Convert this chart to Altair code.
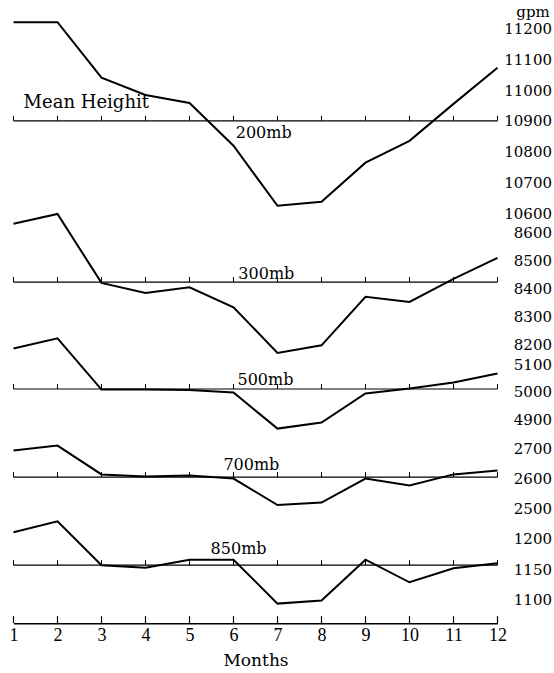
import altair as alt
import pandas as pd

# ---------------- data ----------------
months = list(range(1, 13))
levels = ["200mb", "300mb", "500mb", "700mb", "850mb"]
h200 = [11220, 11220, 11040, 10984, 10958, 10819, 10624, 10637, 10764, 10835, 10955, 11072]
h300 = [8630, 8665, 8419, 8383, 8403, 8332, 8169, 8196, 8369, 8351, 8433, 8508]
h500 = [5157, 5194, 5008, 5008, 5006, 4997, 4866, 4888, 4994, 5012, 5034, 5066]
h700 = [2692, 2708, 2612, 2605, 2608, 2598, 2510, 2518, 2598, 2575, 2612, 2625]
h850 = [1211, 1229, 1157, 1153, 1166, 1166, 1094, 1099, 1166, 1129, 1152, 1160]
series = [h200, h300, h500, h700, h850]
mean_heights = [10900, 8422, 5010, 2603, 1157]
tick_values = [
    [11200, 11100, 11000, 10900, 10800, 10700, 10600],
    [8600, 8500, 8400, 8300, 8200],
    [5100, 5000, 4900],
    [2700, 2600, 2500],
    [1200, 1150, 1100],
]
# label anchor (month, gpm) for the level names
label_month = [6.05, 6.11, 6.09, 5.77, 5.48]
label_gpm = [10861, 8451, 5044, 2642, 1183]
mean_text = "Mean Heighit"
mean_text_month = 1.23
mean_text_gpm = 10958

# ---------------- layout ----------------
domains = [(10575, 11250), (8160, 8640), (4850, 5130), (2470, 2750), (1062, 1236)]
px_per_gpm = [0.308, 0.28, 0.275, 0.30, 0.61]
TICK_PX = 5
PLOT_W = 484
SERIF = "DejaVu Serif"

xscale = alt.Scale(domain=[1, 12], nice=False, zero=False)


def panel(i):
    lo, hi = domains[i]
    h = (hi - lo) * px_per_gpm[i]
    yscale = alt.Scale(domain=[lo, hi], nice=False, zero=False)
    last = i == len(levels) - 1
    tick_len = TICK_PX / px_per_gpm[i]

    yaxis_kwargs = dict(
        orient="right", values=tick_values[i], format="d", ticks=False, tickSize=0,
        domain=False, grid=False, labelAlign="right", labelBaseline="middle",
        labelPadding=54, labelFont=SERIF, labelFontSize=15, labelColor="black",
        labelOverlap=False, labelFlush=False,
    )
    if i == 0:
        yaxis_kwargs.update(
            title="gpm", titleAngle=0, titleX=35, titleY=-1.5, titleAlign="center",
            titleBaseline="middle", titleFont=SERIF, titleFontSize=15,
            titleFontWeight="normal", titleColor="black",
        )
    else:
        yaxis_kwargs.update(title="")
    yaxis = alt.Axis(**yaxis_kwargs)

    if last:
        xaxis = alt.Axis(
            values=months, format="d", ticks=False, tickSize=0, domain=True,
            domainColor="black", domainWidth=1.5, grid=False,
            labelFont="Liberation Serif", labelFontSize=18, labelColor="black",
            labelPadding=3, labelFlush=False, labelOverlap=False,
            title="Months", titleFont=SERIF, titleFontSize=17,
            titleFontWeight="normal", titleColor="black", titlePadding=8,
        )
    else:
        xaxis = None

    def X(field):
        return alt.X(field, scale=xscale, axis=xaxis)

    def Y(field):
        return alt.Y(field, scale=yscale, axis=yaxis)

    df = pd.DataFrame({"month": months, "height": series[i]})
    line = alt.Chart(df).mark_line(color="black", strokeWidth=2).encode(
        x=X("month:Q"), y=Y("height:Q")
    )

    mdf = pd.DataFrame({"start": [months[0]], "end": [months[-1]], "mean": [mean_heights[i]]})
    rule = alt.Chart(mdf).mark_rule(color="black", strokeWidth=1.2).encode(
        x=X("start:Q"), x2="end:Q", y=Y("mean:Q")
    )

    tdf = pd.DataFrame({
        "month": months,
        "mean": [mean_heights[i]] * len(months),
        "top": [mean_heights[i] + tick_len] * len(months),
    })
    ticks = alt.Chart(tdf).mark_rule(color="black", strokeWidth=1).encode(
        x=X("month:Q"), y=Y("mean:Q"), y2="top:Q"
    )

    ldf = pd.DataFrame({"month": [label_month[i]], "gpm": [label_gpm[i]], "txt": [levels[i]]})
    label = alt.Chart(ldf).mark_text(
        font=SERIF, fontSize=16, align="left", baseline="middle", color="black"
    ).encode(x=X("month:Q"), y=Y("gpm:Q"), text="txt:N")

    layers = [rule, ticks, line, label]

    if i == 0:
        mtdf = pd.DataFrame({"month": [mean_text_month], "gpm": [mean_text_gpm], "txt": [mean_text]})
        layers.append(
            alt.Chart(mtdf).mark_text(
                font=SERIF, fontSize=18, align="left", baseline="middle", color="black"
            ).encode(x=X("month:Q"), y=Y("gpm:Q"), text="txt:N")
        )
    if last:
        blen = 7 / px_per_gpm[i]
        bdf = pd.DataFrame({
            "month": months,
            "base": [lo] * len(months),
            "btop": [lo + blen] * len(months),
        })
        layers.append(
            alt.Chart(bdf).mark_rule(color="black", strokeWidth=1.2).encode(
                x=X("month:Q"), y=Y("base:Q"), y2="btop:Q"
            )
        )

    return alt.layer(*layers).properties(width=PLOT_W, height=h)


chart = alt.vconcat(*[panel(i) for i in range(len(levels))], spacing=0, bounds="flush").properties(
    padding={"left": 8.5, "top": 4, "right": 2, "bottom": 2},
    background="white",
).configure_view(strokeWidth=0)

chart.save("out.html", embed_options={"renderer": "svg", "actions": False})
